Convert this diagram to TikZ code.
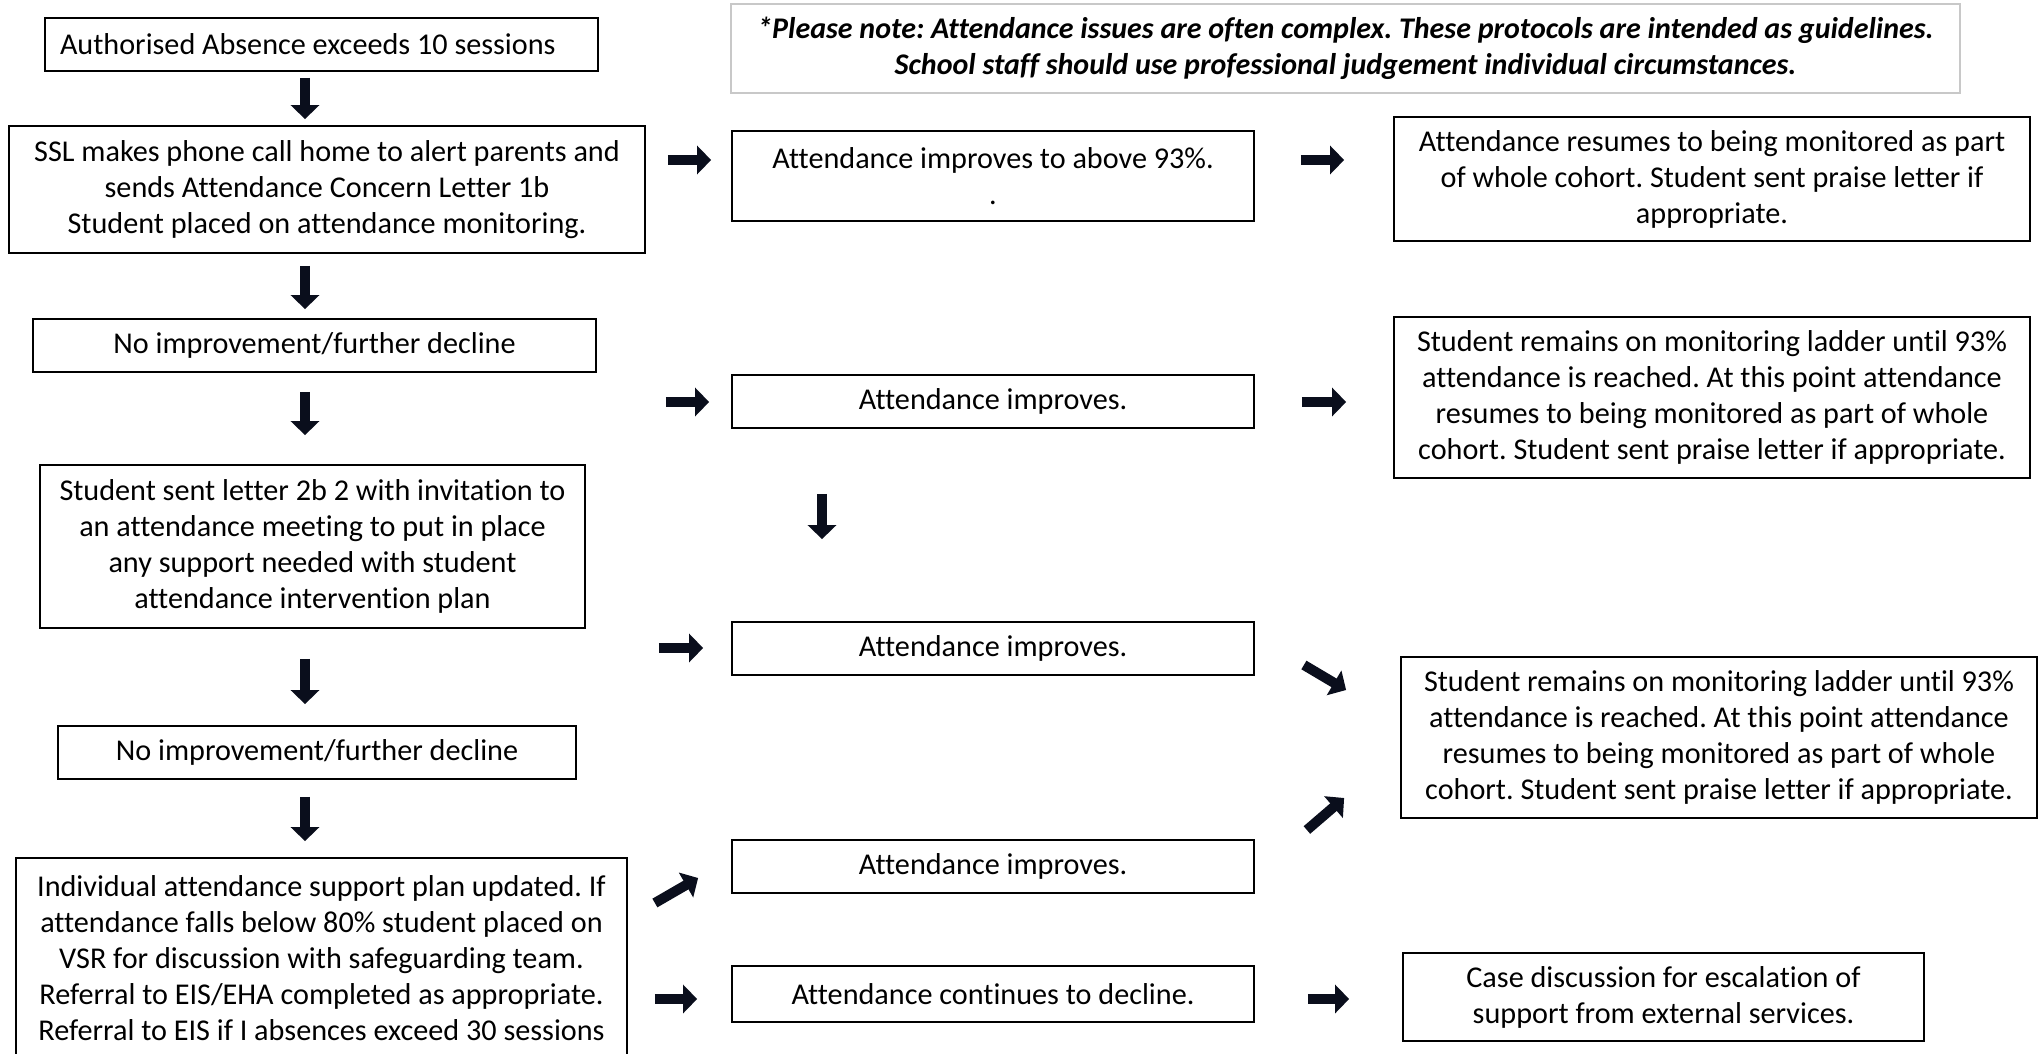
\documentclass[tikz,border=0pt]{standalone}
\usepackage{fontspec}
\setmainfont{Carlito}[Ligatures=NoCommon]
\usetikzlibrary{arrows.meta,calc}
\newdimen\px \px=0.5pt
\definecolor{arrowink}{RGB}{10,14,28}
\definecolor{noteline}{RGB}{200,200,200}
\tikzset{
  stage/.style 2 args={draw=black, line width=0.9pt, minimum width=#1\px, minimum height=#2\px,
    inner sep=0pt, align=center, font=\fontsize{15.1}{18}\selectfont\frenchspacing},
  notebox/.style={draw=noteline, line width=1pt, minimum width=1229\px, minimum height=89\px,
    inner sep=0pt, align=center, font=\fontsize{15}{18}\selectfont\frenchspacing\bfseries\itshape},
  flow/.style={arrowink, line width=5pt, -{Triangle[width=14pt,length=7pt]}}
}
\begin{document}
\begin{tikzpicture}[x=0.5pt,y=-0.5pt]
	\useasboundingbox (0,0) rectangle (2040,1054);
	% left column
	\node[stage={553}{53}, text width=523\px, align=flush left] (absn) at (321.5,44.5) {Authorised Absence exceeds 10 sessions};
	\node[stage={636}{127}] (ssl) at (327,189.5) {SSL makes phone call home to alert parents and\\ sends Attendance Concern Letter 1b\\ Student placed on attendance monitoring.};
	\node[stage={563}{53}] (noimpA) at (314.5,345.5) {No improvement/further decline};
	\node[stage={545}{163}] (letter) at (312.5,546.5) {Student sent letter 2b 2 with invitation to\\ an attendance meeting to put in place\\ any support needed with student\\ attendance intervention plan};
	\node[stage={518}{53}] (noimpB) at (317,752.5) {No improvement/further decline};
	\node[stage={611}{200}] (plan) at (321.5,958) {Individual attendance support plan updated. If\\ attendance falls below 80\% student placed on\\ VSR for discussion with safeguarding team.\\ Referral to EIS/EHA completed as appropriate.\\ Referral to EIS if I absences exceed 30 sessions};
	% middle column
	\node[notebox] (note) at (1345.5,48.5) {*Please note: Attendance issues are often complex. These protocols are intended as guidelines.\\ School staff should use professional judgement individual circumstances.};
	\node[stage={522}{90}] (top93) at (993,176) {Attendance improves to above 93\%.\\ .};
	\node[stage={522}{53}] (impA) at (993,401.5) {Attendance improves.};
	\node[stage={522}{53}] (impB) at (993,648.5) {Attendance improves.};
	\node[stage={522}{53}] (impC) at (993,866.5) {Attendance improves.};
	\node[stage={522}{56}] (decl) at (993,994) {Attendance continues to decline.};
	% right column
	\node[stage={636}{124}] (rightA) at (1712,179) {Attendance resumes to being monitored as part\\ of whole cohort. Student sent praise letter if\\ appropriate.};
	\node[stage={636}{161}] (rightB) at (1712,397.5) {Student remains on monitoring ladder until 93\%\\ attendance is reached. At this point attendance\\ resumes to being monitored as part of whole\\ cohort. Student sent praise letter if appropriate.};
	\node[stage={636}{161}] (rightC) at (1719,737.5) {Student remains on monitoring ladder until 93\%\\ attendance is reached. At this point attendance\\ resumes to being monitored as part of whole\\ cohort. Student sent praise letter if appropriate.};
	\node[stage={521}{88}] (caseD) at (1663.5,997) {Case discussion for escalation of\\ support from external services.};
	% arrow lines
	\coordinate (spine) at (305,0);
	\coordinate (midcol) at (822,0);
	\coordinate (rowA) at (0,160);
	\coordinate (rowB) at (0,402);
	\coordinate (rowC) at (0,648);
	\coordinate (rowD) at (0,999);
	% down the left column
	\draw[flow, shorten <=6\px, shorten >=6\px] (absn.south -| spine) -- (ssl.north -| spine);
	\draw[flow, shorten <=12\px, shorten >=9\px] (ssl.south -| spine) -- (noimpA.north -| spine);
	\draw[flow, shorten <=19\px, shorten >=29\px] (noimpA.south -| spine) -- (letter.north -| spine);
	\draw[flow, shorten <=30\px, shorten >=21\px] (letter.south -| spine) -- (noimpB.north -| spine);
	\draw[flow, shorten <=17\px, shorten >=16\px] (noimpB.south -| spine) -- (plan.north -| spine);
	% across
	\draw[flow, shorten <=22\px, shorten >=20\px] (ssl.east |- rowA) -- (top93.west |- rowA);
	\draw[flow, shorten <=46\px, shorten >=49\px] (top93.east |- rowA) -- (rightA.west |- rowA);
	\draw[flow, shorten <=69\px, shorten >=22\px] (noimpA.east |- rowB) -- (impA.west |- rowB);
	\draw[flow, shorten <=47\px, shorten >=47\px] (impA.east |- rowB) -- (rightB.west |- rowB);
	\draw[flow, shorten <=65\px, shorten >=82\px] (impA.south -| midcol) -- (impB.north -| midcol);
	\draw[flow, shorten <=73\px, shorten >=28\px] (letter.east |- rowC) -- (impB.west |- rowC);
	\draw[flow] ($(impB.east)+(49,16.5)$) -- ($(rightC.west)+(-54,-47.5)$);
	\draw[flow] ($(impC.east)+(52,-36.5)$) -- ($(rightC.west)+(-56,60.5)$);
	\draw[flow] ($(plan.east)+(27,-55)$) -- ($(impC.west)+(-33,11.5)$);
	\draw[flow, shorten <=27\px, shorten >=34\px] (plan.east |- rowD) -- (decl.west |- rowD);
	\draw[flow, shorten <=53\px, shorten >=53\px] (decl.east |- rowD) -- (caseD.west |- rowD);
\end{tikzpicture}
\end{document}
